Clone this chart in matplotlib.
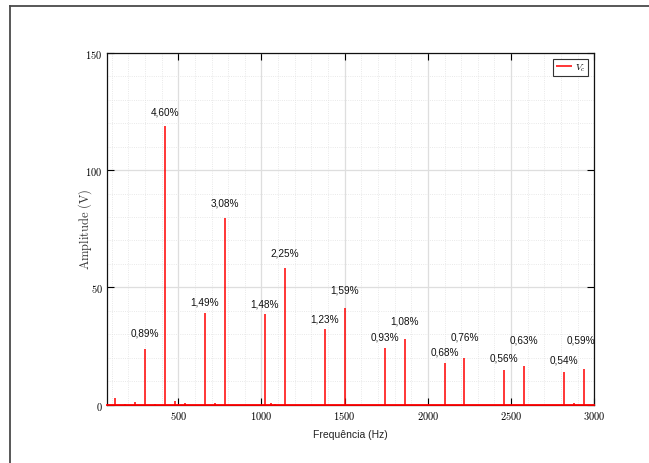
import numpy as np
import matplotlib.pyplot as plt
from matplotlib.lines import Line2D
from matplotlib.ticker import MultipleLocator

plt.rcParams['mathtext.fontset'] = 'cm'

# odd harmonics (6k +/- 1) of 60 Hz and their amplitudes in V
harm_freq = [300, 420, 660, 780, 1020, 1140, 1380, 1500,
             1740, 1860, 2100, 2220, 2460, 2580, 2820, 2940]
harm_amp = [23.6, 118.9, 38.9, 79.8, 38.6, 58.1, 32.1, 41.1,
            24.1, 27.9, 17.7, 19.7, 14.7, 16.3, 13.9, 15.2]
harm_pct = [0.89, 4.60, 1.49, 3.08, 1.48, 2.25, 1.23, 1.59,
            0.93, 1.08, 0.68, 0.76, 0.56, 0.63, 0.54, 0.59]

# small leftover components near the floor
small_freq = [120, 180, 240, 360, 480, 540, 720, 1060, 1080, 2880]
small_amp = [2.6, 0.4, 0.9, 0.4, 1.3, 0.8, 0.5, 0.5, 0.4, 0.6]

# vertical offset (points) of each percentage label above its line
label_off = [10, 8.5, 6.5, 8.5, 5.5, 9, 5.5, 11.5,
             6, 11, 6, 13.5, 7, 17, 6.5, 19]
label_dx = [0, 0, 0, 0, 0, 0, 0, 0,
            0, 0, 0, 0, 0, 0, 0, -2.5]

fig = plt.figure(figsize=(6.49, 4.64), dpi=100)
ax = fig.add_axes([0.1644, 0.126, 0.7513, 0.7576])

# spectrum lines
ax.vlines(small_freq, 0, small_amp, color='red', lw=1.1)
ax.vlines(harm_freq, 0, harm_amp, color='red', lw=1.1, label=r'$V_c$')
ax.axhline(0, color='red', lw=1.3, clip_on=False, zorder=3)

for f, a, p, off, dx in zip(harm_freq, harm_amp, harm_pct, label_off, label_dx):
    txt = f'{p:.2f}'.replace('.', ',') + '%'
    ax.annotate(txt, (f, a), xytext=(dx, off), textcoords='offset points',
                ha='center', va='baseline', fontsize=7.2,
                family='Liberation Sans', color='#111111')

ax.set_xlim(70, 3000)
ax.set_ylim(0, 150)
ax.xaxis.set_major_locator(MultipleLocator(500))
ax.xaxis.set_minor_locator(MultipleLocator(100))
ax.yaxis.set_major_locator(MultipleLocator(50))
ax.yaxis.set_minor_locator(MultipleLocator(10))

ax.grid(which='major', color='#dedede', lw=0.9)
ax.grid(which='minor', color='#e2e2e2', lw=0.6, linestyle=':')
ax.set_axisbelow(True)

ax.tick_params(which='major', direction='in', length=5, width=0.8,
               top=True, right=True, labelsize=7.5, pad=3)
ax.tick_params(which='minor', length=0)
ax.xaxis.set_major_formatter(plt.FuncFormatter(lambda v, _: r'$\mathrm{%d}$' % v))
ax.yaxis.set_major_formatter(plt.FuncFormatter(lambda v, _: r'$\mathrm{%d}$' % v))
for sp in ax.spines.values():
    sp.set_linewidth(0.9)
    sp.set_color('#111111')

ax.set_xlabel('Frequência (Hz)', family='Liberation Sans', fontsize=7.5,
              labelpad=6, color='#222222')
ax.set_ylabel(r'$\mathrm{Amplitude\ (V)}$', fontsize=9, color='#333333')
ax.yaxis.set_label_coords(-0.027, 0.5)

leg = ax.legend(loc='upper right', fontsize=7, handlelength=1.7,
                handletextpad=0.3, borderpad=0.3, borderaxespad=0.6,
                fancybox=False, framealpha=1)
leg.get_frame().set_edgecolor('#333333')
leg.get_frame().set_linewidth(0.8)

# outer frame around the figure (top and left edges)
W, H = 649, 464
fig.add_artist(Line2D([10 / W, 1], [1 - 7 / H, 1 - 7 / H],
                      transform=fig.transFigure, color='#4a4a4a', lw=1.3))
fig.add_artist(Line2D([10 / W, 10 / W], [0, 1 - 7 / H],
                      transform=fig.transFigure, color='#4a4a4a', lw=1.3))

fig.savefig('out.png', dpi=100)
